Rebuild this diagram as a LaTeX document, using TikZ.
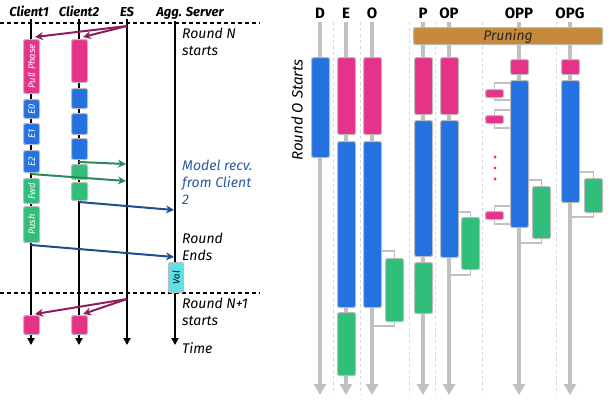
\documentclass[tikz,border=0pt]{standalone}
\usepackage{fontspec}
\setmainfont{Fira Sans}
\usetikzlibrary{arrows.meta}
\definecolor{cpink}{HTML}{E6338A}
\definecolor{cblue}{HTML}{2472E0}
\definecolor{cgreen}{HTML}{2FBF7A}
\definecolor{ccyan}{HTML}{5EE2E6}
\definecolor{cprune}{HTML}{C68A3A}
\definecolor{cbord}{HTML}{BBBBBB}
\definecolor{cgline}{HTML}{C0C0C0}
\definecolor{cmag}{HTML}{8E1F5E}
\definecolor{cdgreen}{HTML}{2A8A5C}
\definecolor{cdblue}{HTML}{1F4E8C}
\definecolor{ctxtblue}{HTML}{2E5A9E}
\tikzset{
  blk/.style={draw=cbord, line width=1.1pt, rounded corners=2pt, inner sep=0pt, anchor=north west},
  pinkb/.style={blk, fill=cpink},
  blueb/.style={blk, fill=cblue},
  greenb/.style={blk, fill=cgreen},
  cyanb/.style={blk, fill=ccyan},
  intext/.style={rotate=90, text=white, font=\fontsize{9.5}{10}\selectfont\itshape},
  lhead/.style={font=\fontsize{13}{14}\selectfont\bfseries\itshape, anchor=base},
  rhead/.style={font=\fontsize{15}{16}\selectfont\bfseries, anchor=base},
  note/.style={font=\fontsize{14}{17}\selectfont\itshape, anchor=base west, align=left, inner sep=0pt},
  tline/.style={line width=2pt, black, -{Triangle[width=7pt,length=7pt]}},
  gline/.style={line width=3.5pt, cgline, -{Triangle[width=12pt,length=11pt]}},
  sep/.style={dashed, dash pattern=on 3pt off 3pt, cbord!60, line width=0.8pt},
  rdash/.style={dashed, dash pattern=on 4pt off 3pt, line width=1.1pt},
  msg/.style={line width=2pt, -{Stealth[length=8pt,width=8pt]}},
  conn/.style={cgline, line width=1.6pt},
}
\begin{document}
\begin{tikzpicture}[x=1pt,y=-1pt]
\useasboundingbox (0,0) rectangle (610,413);
% ===== LEFT PANEL =====
\node[lhead] (h1) at (29,16) {Client1};
\node[lhead] (h2) at (79,16) {Client2};
\node[lhead] (h3) at (127,16) {ES};
\node[lhead] (h4) at (190,16) {Agg. Server};
\draw[rdash] (0,23) -- (260,23);
\draw[rdash] (0,293) -- (260,293);
\coordinate (c1t) at (31,19); \coordinate (c1b) at (31,345);
\coordinate (c2t) at (79,19); \coordinate (c2b) at (79,345);
\coordinate (est) at (127,19); \coordinate (esb) at (127,345);
\coordinate (agt) at (175,21); \coordinate (agb) at (175,345);
\draw[tline] (c1t) -- (c1b);
\draw[tline] (c2t) -- (c2b);
\draw[tline] (est) -- (esb);
\draw[tline] (agt) -- (agb);
% client1 boxes
\node[pinkb, minimum width=16, minimum height=54] (pp) at (23,39) {};
\node[intext] (ppt) at (pp.center) {Pull Phase};
\node[blueb, minimum width=16, minimum height=19] (e0) at (23,99) {};
\node[intext] (e0t) at (e0.center) {E0};
\node[blueb, minimum width=16, minimum height=21] (e1) at (23,123) {};
\node[intext] (e1t) at (e1.center) {E1};
\node[blueb, minimum width=16, minimum height=22] (e2) at (23,150) {};
\node[intext] (e2t) at (e2.center) {E2};
\node[greenb, minimum width=16, minimum height=25] (fwd) at (23,178) {};
\node[intext] (fwdt) at (fwd.center) {Fwd};
\node[greenb, minimum width=16, minimum height=36] (push) at (23,206) {};
\node[intext] (pusht) at (push.center) {Push};
\node[pinkb, minimum width=16, minimum height=19] (n1) at (23,315) {};
% client2 boxes
\node[pinkb, minimum width=16, minimum height=43] (q0) at (71,39) {};
\node[blueb, minimum width=16, minimum height=20] (q1) at (71,88) {};
\node[blueb, minimum width=16, minimum height=21] (q2) at (71,113) {};
\node[blueb, minimum width=16, minimum height=21] (q3) at (71,138) {};
\node[greenb, minimum width=16, minimum height=15] (q4) at (71,164) {};
\node[greenb, minimum width=16, minimum height=18] (q5) at (71,182) {};
\node[pinkb, minimum width=16, minimum height=19] (n2) at (71,315) {};
% val
\node[cyanb, minimum width=15, minimum height=30] (val) at (168,262) {};
\node[intext, text=black] (valt) at (val.center) {Val};
% messages
\coordinate (es1) at (127,26);
\coordinate (es2) at (127,299);
\draw[msg, cmag] (es1) -- ([xshift=-5pt,yshift=2pt]pp.north east);
\draw[msg, cmag] (es1) -- ([xshift=-5pt,yshift=2pt]q0.north east);
\draw[msg, cmag] (es2) -- ([xshift=-5pt,yshift=1pt]n1.north east);
\draw[msg, cmag] (es2) -- ([xshift=-5pt,yshift=1pt]n2.north east);
\coordinate (g1s) at (79,162); \coordinate (g1e) at (126,164);
\coordinate (g2s) at (31,174); \coordinate (g2e) at (126,181);
\draw[msg, cdgreen] (g1s) -- (g1e);
\draw[msg, cdgreen] (g2s) -- (g2e);
\coordinate (b1s) at (79,202); \coordinate (b1e) at (174,210);
\coordinate (b2s) at (31,245); \coordinate (b2e) at (174,257);
\draw[msg, cdblue] (b1s) -- (b1e);
\draw[msg, cdblue] (b2s) -- (b2e);
% notes (anchor = baseline of last line)
\node[note] (rn) at (182,55) {Round N\\starts};
\node[note, text=ctxtblue] (mr) at (182,204) {Model recv.\\from Client\\2};
\node[note] (re) at (182,260) {Round\\Ends};
\node[note] (rn1) at (182,325) {Round N+1\\starts};
\node[note] (tm) at (182,353) {Time};
% ===== RIGHT PANEL =====
\foreach \x in {333,360,409,435,482,556} \draw[sep] (\x,22) -- (\x,395);
\foreach \n/\x in {D/320,E/346,O/372,P/423,OP/449,OPP/519,OPG/570} {
  \node[rhead] (hd\n) at (\x,18) {\n};
  \draw[gline] (\x,22) -- (\x,395);
}
\node[blk, fill=cprune, minimum width=189, minimum height=17] (prune) at (413,27) {};
\node[font=\fontsize{14}{15}\selectfont\itshape, text=black!85] (prunet) at (prune.center) {Pruning};
\node[rotate=90, font=\fontsize{15}{16}\selectfont\itshape] (ros) at (297,110) {Round O Starts};
% D
\node[blueb, minimum width=18, minimum height=100] (dB) at (311,57) {};
% E
\node[pinkb, minimum width=18, minimum height=77] (eP) at (337,57) {};
\node[blueb, minimum width=18, minimum height=166] (eB) at (337,141) {};
\node[greenb, minimum width=18, minimum height=63] (eG) at (337,312) {};
% O
\node[pinkb, minimum width=18, minimum height=77] (oP) at (363,57) {};
\node[blueb, minimum width=18, minimum height=166] (oB) at (363,141) {};
\node[greenb, minimum width=18, minimum height=63] (oG) at (385,258) {};
\draw[conn] (oB.east |- 0,251) -| (oG.north);
\draw[conn] (oG.south) |- (371,326);
% P
\node[pinkb, minimum width=18, minimum height=57] (pP) at (414,57) {};
\node[blueb, minimum width=18, minimum height=136] (pB) at (414,120) {};
\node[greenb, minimum width=18, minimum height=51] (pG) at (414,262) {};
% OP
\node[pinkb, minimum width=18, minimum height=57] (opP) at (440,57) {};
\node[blueb, minimum width=18, minimum height=137] (opB) at (440,120) {};
\node[greenb, minimum width=18, minimum height=52] (opG) at (461,217) {};
\draw[conn] (opB.east |- 0,212) -| (opG.north);
\draw[conn] (opG.south) |- (449,275);
% OPP
\node[pinkb, minimum width=18, minimum height=15] (oppP) at (510,59) {};
\node[blueb, minimum width=18, minimum height=147] (oppB) at (510,80) {};
\node[greenb, minimum width=18, minimum height=52] (oppG) at (532,186) {};
\draw[conn] (oppB.east |- 0,180) -| (oppG.north);
\draw[conn] (oppG.south) |- (519,243);
\node[pinkb, minimum width=18, minimum height=8] (s1) at (485,89) {};
\node[pinkb, minimum width=18, minimum height=8] (s2) at (485,115) {};
\node[pinkb, minimum width=18, minimum height=8] (s3) at (485,211) {};
\draw[conn] (oppB.west |- 0,83) -| (s1.north);
\draw[conn] (s1.south) |- (oppB.west |- 0,100);
\draw[conn] (oppB.west |- 0,110) -| (s2.north);
\draw[conn] (s2.south) |- (oppB.west |- 0,128);
\draw[conn] (oppB.west |- 0,206) -| (s3.north);
\draw[conn] (s3.south) |- (oppB.west |- 0,224);
\foreach \y in {157,168,179} \fill[cpink] (495,\y) circle (1.6);
% OPG
\node[pinkb, minimum width=18, minimum height=15] (opgP) at (561,59) {};
\node[blueb, minimum width=18, minimum height=122] (opgB) at (561,80) {};
\node[greenb, minimum width=18, minimum height=34] (opgG) at (584,178) {};
\draw[conn] (opgB.east |- 0,172) -| (opgG.north);
\draw[conn] (opgG.south) |- (570,217);
\end{tikzpicture}
\end{document}
